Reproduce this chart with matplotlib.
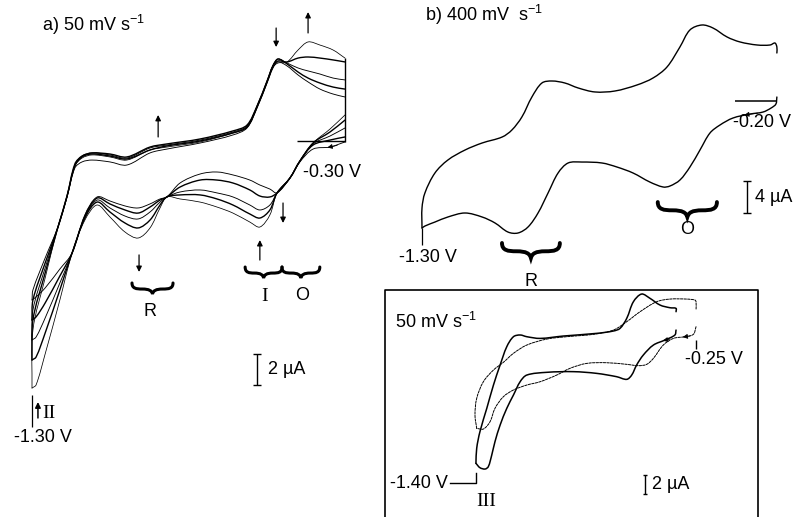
import numpy as np
import matplotlib
matplotlib.use('Agg')
import matplotlib.pyplot as plt
from matplotlib.path import Path
from matplotlib.patches import PathPatch
from matplotlib.lines import Line2D

plt.rcParams['font.family'] = ['Liberation Sans', 'DejaVu Sans']
plt.rcParams['mathtext.fontset'] = 'custom'
plt.rcParams['mathtext.rm'] = 'Liberation Sans'
plt.rcParams['mathtext.default'] = 'regular'

# ---------------- data: panel a, 50 mV/s, five successive cycles ----------------
# cathodic sweep (-0.30 V -> -1.30 V), potential in V, current in uA
a_E_cath = [-0.300, -0.348, -0.402, -0.444, -0.476, -0.517, -0.540, -0.572, -0.604, -0.658,
            -0.709, -0.763, -0.827, -0.869, -0.891, -0.923, -0.961, -1.003, -1.051, -1.092,
            -1.131, -1.172, -1.211, -1.258, -1.287, -1.300]
a_I_cath = [
    [-0.06, -0.39, -0.52, -1.35, -2.39, -3.35, -3.10, -2.84, -2.52, -2.19, -2.00, -2.13, -2.71,
     -3.61, -3.74, -4.06, -4.32, -4.19, -3.87, -3.61, -4.77, -7.23, -8.26, -9.48, -10.06, -10.26],
    [0.26, 0.06, -0.26, -1.29, -2.39, -3.35, -3.61, -3.55, -3.16, -2.71, -2.52, -2.52, -2.97,
     -3.61, -3.81, -4.26, -4.65, -4.45, -4.06, -3.68, -4.84, -7.23, -8.71, -10.45, -11.35, -11.55],
    [0.84, 0.32, -0.19, -1.29, -2.39, -3.35, -4.13, -4.45, -4.13, -3.61, -3.35, -3.16, -3.29,
     -3.61, -3.94, -4.58, -5.03, -4.84, -4.32, -3.81, -4.90, -7.23, -9.16, -11.42, -12.65, -12.84],
    [1.35, 0.58, -0.13, -1.29, -2.39, -3.35, -4.45, -4.97, -4.71, -4.13, -3.74, -3.48, -3.48,
     -3.61, -4.13, -5.10, -5.61, -5.29, -4.58, -3.94, -4.97, -7.23, -9.61, -12.39, -13.94, -14.13],
    [1.68, 0.77, -0.13, -1.29, -2.39, -3.35, -4.77, -5.55, -5.23, -4.65, -4.26, -3.94, -3.74,
     -3.61, -4.32, -5.61, -6.26, -5.87, -4.90, -4.13, -5.10, -7.23, -10.26, -13.74, -15.74, -15.94],
]
# anodic sweep (-1.30 V -> -0.30 V)
a_E_anod = [-1.300, -1.297, -1.258, -1.217, -1.188, -1.163, -1.140, -1.108, -1.051, -0.997,
            -0.923, -0.869, -0.763, -0.658, -0.613, -0.581, -0.549, -0.530, -0.514, -0.485,
            -0.450, -0.418, -0.380, -0.338, -0.300]
a_I_anod = [
    [-10.26, -9.61, -7.55, -5.55, -3.61, -1.74, -1.35, -1.23, -1.35, -1.55, -0.77, -0.52, -0.13,
     0.39, 0.84, 2.13, 3.74, 4.71, 5.10, 4.84, 4.26, 3.81, 3.35, 3.03, 2.84],
    [-11.55, -10.26, -7.87, -5.55, -3.55, -1.61, -1.03, -0.84, -0.97, -1.16, -0.58, -0.32, 0.00,
     0.52, 0.90, 2.19, 3.81, 4.84, 5.29, 4.97, 4.45, 4.06, 3.74, 3.48, 3.35],
    [-12.84, -10.90, -8.19, -5.55, -3.55, -1.55, -0.97, -0.77, -0.90, -1.10, -0.45, -0.26, 0.06,
     0.58, 0.97, 2.26, 3.87, 4.90, 5.29, 5.03, 4.71, 4.52, 4.32, 4.06, 3.94],
    [-14.13, -11.55, -8.52, -5.55, -3.55, -1.48, -0.97, -0.77, -0.84, -1.03, -0.39, -0.19, 0.13,
     0.65, 1.03, 2.26, 3.87, 4.84, 5.16, 5.10, 5.35, 5.42, 5.35, 5.23, 5.10],
    [-15.94, -12.19, -8.84, -5.55, -3.61, -1.61, -1.10, -0.90, -1.03, -1.23, -0.58, -0.39, -0.06,
     0.52, 0.90, 2.19, 3.81, 4.77, 5.03, 5.10, 5.87, 6.39, 6.19, 5.87, 5.35],
]

# ---------------- data: panel b, 400 mV/s ----------------
b_E_cath = [-0.202, -0.205, -0.220, -0.245, -0.285, -0.338, -0.378, -0.409, -0.440, -0.471,
            -0.502, -0.533, -0.554, -0.595, -0.647, -0.697, -0.743, -0.805, -0.848, -0.879,
            -0.910, -0.941, -0.972, -1.003, -1.034, -1.074, -1.114, -1.167, -1.220, -1.260,
            -1.291, -1.300]
b_I_cath = [0.50, -0.38, -0.88, -1.38, -1.63, -2.13, -3.00, -4.00, -6.13, -8.25,
            -9.88, -10.63, -10.75, -10.13, -9.00, -8.25, -7.75, -7.63, -7.75, -9.00,
            -11.50, -14.00, -15.75, -16.50, -16.38, -15.25, -14.50, -14.00, -14.50, -15.13,
            -15.63, -15.88]
b_E_anod = [-1.300, -1.300, -1.291, -1.260, -1.220, -1.167, -1.114, -1.052, -1.022, -0.991,
            -0.960, -0.929, -0.898, -0.858, -0.817, -0.765, -0.703, -0.635, -0.585, -0.542,
            -0.502, -0.471, -0.434, -0.400, -0.356, -0.316, -0.263, -0.223, -0.208, -0.202,
            -0.202]
b_I_anod = [-15.88, -13.38, -11.50, -9.00, -7.38, -6.13, -5.25, -4.50, -3.63, -2.00,
            0.50, 2.25, 2.50, 2.25, 1.63, 1.13, 1.25, 2.00, 2.88, 4.25,
            6.75, 8.88, 9.50, 9.13, 8.00, 7.38, 7.00, 7.00, 7.25, 6.75,
            6.00]

# ---------------- data: inset, 50 mV/s (solid and dashed scans) ----------------
in_solid_E_anod = [-1.404, -1.400, -1.383, -1.347, -1.312, -1.277, -1.242, -1.207, -1.172, -1.137,
                   -1.067, -0.945, -0.770, -0.682, -0.647, -0.612, -0.577, -0.534, -0.490, -0.437,
                   -0.385, -0.353, -0.353]
in_solid_I_anod = [-13.33, -11.75, -10.00, -7.54, -5.09, -2.98, -1.05, 0.00, 0.18, 0.00,
                   -0.18, 0.07, 0.35, 0.60, 0.88, 1.93, 3.68, 4.49, 4.04, 3.33,
                   3.05, 2.98, 2.63]
in_solid_E_cath = [-0.353, -0.359, -0.411, -0.472, -0.525, -0.560, -0.586, -0.612, -0.665, -0.770,
                   -0.892, -1.032, -1.137, -1.172, -1.207, -1.242, -1.277, -1.304, -1.321, -1.339,
                   -1.356, -1.383, -1.404]
in_solid_I_cath = [0.70, 0.18, -0.35, -0.88, -1.93, -2.98, -4.04, -4.49, -4.21, -3.86,
                   -3.68, -3.75, -4.04, -4.74, -6.14, -7.54, -9.30, -11.05, -12.46, -13.68,
                   -13.93, -13.79, -13.33]
in_dash_E_anod = [-1.400, -1.409, -1.400, -1.365, -1.312, -1.260, -1.207, -1.137, -1.032, -0.927,
                  -0.787, -0.682, -0.612, -0.542, -0.455, -0.385, -0.297, -0.254, -0.248, -0.248]
in_dash_I_anod = [-9.65, -8.25, -6.49, -4.74, -3.51, -2.70, -1.75, -0.88, -0.25, 0.00,
                  0.25, 0.70, 1.58, 2.63, 3.68, 3.96, 3.96, 3.86, 3.68, 2.81]
in_dash_E_cath = [-0.248, -0.262, -0.306, -0.367, -0.420, -0.472, -0.507, -0.551, -0.612, -0.717,
                  -0.822, -0.910, -0.980, -1.067, -1.137, -1.207, -1.260, -1.304, -1.330, -1.365,
                  -1.400]
in_dash_I_cath = [1.05, 0.25, 0.00, -0.18, -0.88, -2.28, -2.91, -3.05, -2.91, -2.74,
                  -2.81, -3.33, -4.04, -4.74, -5.09, -5.61, -6.32, -7.54, -8.95, -9.72,
                  -9.65]

# ---------------- figure / layout ----------------
W, H = 802, 517
fig = plt.figure(figsize=(W / 100, H / 100), dpi=100)
fig.patch.set_facecolor('white')


def panel(e_ref, x_ref, px_per_v, y_zero, px_per_ua):
    ax = fig.add_axes([0, 0, 1, 1])
    ax.set_axis_off()
    ax.patch.set_alpha(0)
    ax.set_xlim(e_ref - x_ref / px_per_v, e_ref + (W - x_ref) / px_per_v)
    ax.set_ylim(-(H - y_zero) / px_per_ua, y_zero / px_per_ua)
    return ax


ax_a = panel(-1.30, 32, 313.0, 141, 15.5)
ax_b = panel(-1.30, 422, 323.2, 101, 8.0)
ax_c = panel(-1.40, 476.7, 190.4, 336.7, 9.5)


def smooth(ax, E, I, **kw):
    """Smooth curve through the read points (chord-length cubic Bezier)."""
    P = ax.transData.transform(np.column_stack([E, I]).astype(float))
    n = len(P)
    d = np.hypot(*np.diff(P, axis=0).T)
    d[d == 0] = 1e-6
    m = np.zeros_like(P)
    m[0] = (P[1] - P[0]) / d[0]
    m[-1] = (P[-1] - P[-2]) / d[-1]
    for i in range(1, n - 1):
        m[i] = (P[i + 1] - P[i - 1]) / (d[i - 1] + d[i])
    verts = [P[0]]
    codes = [Path.MOVETO]
    for i in range(n - 1):
        verts += [P[i] + m[i] * d[i] / 3, P[i + 1] - m[i + 1] * d[i] / 3, P[i + 1]]
        codes += [Path.CURVE4] * 3
    V = ax.transData.inverted().transform(np.array(verts))
    ax.add_patch(PathPatch(Path(V, codes), fill=False, capstyle='round',
                           joinstyle='round', **kw))


def arrow(ax, x, y0, y1, lw=0.9, ms=8):
    ax.annotate('', xy=(x, y1), xytext=(x, y0),
                arrowprops=dict(arrowstyle='-|>', color='black', lw=lw,
                                mutation_scale=ms, shrinkA=0, shrinkB=0))


def head(ax, tip, tail, ms=7):
    ax.annotate('', xy=tip, xytext=tail,
                arrowprops=dict(arrowstyle='-|>', color='black', lw=0.6,
                                mutation_scale=ms, shrinkA=0, shrinkB=0))


def brace(ax, ec, itop, w, h, lw):
    uv = [(0, 0), (0.0, 0.5), (0.1, 0.55), (0.25, 0.55), (0.42, 0.55), (0.48, 0.7), (0.5, 1.0),
          (0.52, 0.7), (0.58, 0.55), (0.75, 0.55), (0.9, 0.55), (1.0, 0.5), (1.0, 0.0)]
    verts = [(ec + (u - 0.5) * w, itop - v * h) for u, v in uv]
    codes = [Path.MOVETO] + [Path.CURVE4] * 12
    ax.add_patch(PathPatch(Path(verts, codes), fill=False, lw=lw, capstyle='round',
                           color='black'))


def scalebar(ax, x, y0, y1, cap, lw=1.0):
    ax.vlines(x, y0, y1, color='black', lw=lw)
    ax.hlines([y0, y1], x - cap, x + cap, color='black', lw=lw)


FS = 13
serif = ['Liberation Serif', 'DejaVu Serif']

# ---------------- panel a ----------------
a_lw = [0.65, 1.0, 0.65, 1.0, 0.55]
for k in range(5):
    smooth(ax_a, a_E_cath, a_I_cath[k], lw=a_lw[k], color='black')
    smooth(ax_a, a_E_anod, a_I_anod[k], lw=a_lw[k], color='black')
# switching segment at -0.30 V
ax_a.vlines(a_E_anod[-1], min(c[0] for c in a_I_cath), max(c[-1] for c in a_I_anod),
            color='black', lw=1.0)
ax_a.hlines(0, -0.453, -0.300, color='black', lw=1.0)
head(ax_a, (-0.356, -0.42), (-0.325, -0.28))

arrow(ax_a, -0.958, -7.35, -8.45)
arrow(ax_a, -0.572, -7.68, -6.39)
arrow(ax_a, -0.498, -4.0, -5.29)
arrow(ax_a, -0.897, 0.26, 1.68)
arrow(ax_a, -0.520, 7.29, 6.06)
arrow(ax_a, -0.418, 6.97, 8.32)
arrow(ax_a, -1.281, -17.87, -16.84, lw=1.1)
ax_a.vlines(-1.300, -18.45, -16.39, color='black', lw=0.9)

brace(ax_a, -0.915, -9.16, 0.131, 0.71, 2.2)
brace(ax_a, -0.560, -8.13, 0.118, 0.71, 2.2)
brace(ax_a, -0.441, -8.13, 0.121, 0.71, 2.2)

ax_a.text(-1.268, 7.48, 'a) 50 mV s$^{-1}$', fontsize=FS, ha='left', va='center')
ax_a.text(-0.434, -2.06, '-0.30 V', fontsize=FS, ha='left', va='center')
ax_a.text(-0.923, -11.03, 'R', fontsize=FS, ha='center', va='center')
ax_a.text(-0.556, -10.06, 'I', fontsize=14, ha='center', va='center', family=serif)
ax_a.text(-0.437, -10.0, 'O', fontsize=FS, ha='center', va='center')
ax_a.text(-1.268, -17.55, 'II', fontsize=14, ha='left', va='center', family=serif)
ax_a.text(-1.266, -19.16, '-1.30 V', fontsize=FS, ha='center', va='center')
scalebar(ax_a, -0.581, -15.74, -13.74, 0.013)
ax_a.text(-0.546, -14.77, '2 µA', fontsize=FS, ha='left', va='center')

# ---------------- panel b ----------------
smooth(ax_b, b_E_cath, b_I_cath, lw=1.0, color='black')
smooth(ax_b, b_E_anod, b_I_anod, lw=1.0, color='black')
ax_b.hlines(0, -0.332, -0.202, color='black', lw=1.1)
head(ax_b, (-0.303, -1.75), (-0.262, -1.52))
ax_b.vlines(-1.300, -18.0, -15.9, color='black', lw=0.9)
brace(ax_b, -0.479, -12.63, 0.183, 1.88, 2.8)
brace(ax_b, -0.963, -17.75, 0.179, 1.88, 2.8)
ax_b.text(-1.291, 10.75, 'b) 400 mV  s$^{-1}$', fontsize=FS, ha='left', va='center')
ax_b.text(-0.338, -2.63, '-0.20 V', fontsize=FS, ha='left', va='center')
scalebar(ax_b, -0.294, -14.0, -10.0, 0.013)
ax_b.text(-0.270, -12.1, '4 µA', fontsize=FS, ha='left', va='center')
ax_b.text(-0.479, -16.1, 'O', fontsize=FS, ha='center', va='center')
ax_b.text(-0.963, -22.6, 'R', fontsize=FS, ha='center', va='center')
ax_b.text(-1.281, -19.5, '-1.30 V', fontsize=FS, ha='center', va='center')

# ---------------- inset ----------------
fig.add_artist(Line2D([385 / W, 385 / W, 758 / W, 758 / W], [-0.01, 1 - 290 / H, 1 - 290 / H, -0.01],
                      color='black', lw=1.2, transform=fig.transFigure))
smooth(ax_c, in_solid_E_anod, in_solid_I_anod, lw=1.1, color='black')
smooth(ax_c, in_solid_E_cath, in_solid_I_cath, lw=1.1, color='black')
smooth(ax_c, in_dash_E_anod, in_dash_I_anod, lw=0.7, color='black', linestyle=(0, (2.5, 1.2)))
smooth(ax_c, in_dash_E_cath, in_dash_I_cath, lw=0.7, color='black', linestyle=(0, (2.5, 1.2)))
head(ax_c, (-0.422, -0.42), (-0.385, -0.25))
head(ax_c, (-0.318, -0.04), (-0.280, 0.07))
ax_c.vlines(-0.248, -1.30, -0.35, color='black', lw=1.0)
ax_c.plot([-1.540, -1.404, -1.404], [-15.4, -15.4, -14.35], color='black', lw=1.0)
ax_c.text(-1.829, 1.55, '50 mV s$^{-1}$', fontsize=FS, ha='left', va='center')
ax_c.text(-0.306, -2.45, '-0.25 V', fontsize=FS, ha='left', va='center')
ax_c.text(-1.551, -15.4, '-1.40 V', fontsize=FS, ha='right', va='center')
ax_c.text(-1.349, -17.4, 'III', fontsize=14, ha='center', va='center', family=serif)
scalebar(ax_c, -0.516, -16.56, -14.56, 0.012)
ax_c.text(-0.479, -15.6, '2 µA', fontsize=FS, ha='left', va='center')

fig.savefig('out.png', dpi=100, facecolor='white')
